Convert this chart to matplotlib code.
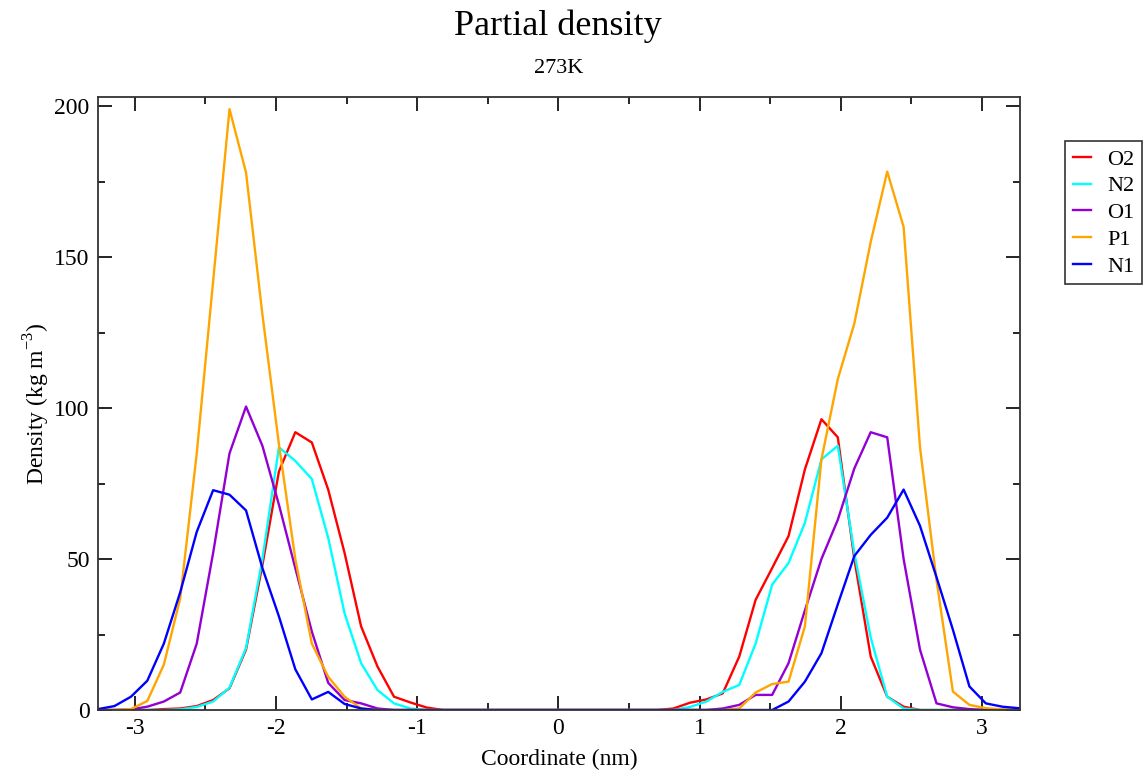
import numpy as np
import matplotlib.pyplot as plt
from matplotlib.ticker import MultipleLocator

plt.rcParams["font.family"] = ["Liberation Serif", "DejaVu Serif"]
plt.rcParams["mathtext.fontset"] = "custom"
plt.rcParams["mathtext.rm"] = "Liberation Serif"
plt.rcParams["axes.unicode_minus"] = False

# bin centres along the box normal (nm)
coord = [-3.260, -3.144, -3.027, -2.911, -2.794, -2.678, -2.561, -2.445, -2.329, -2.212,
         -2.096, -1.979, -1.863, -1.746, -1.630, -1.514, -1.397, -1.281, -1.164, -1.048,
         -0.931, -0.815, -0.699, -0.582, -0.466, -0.349, -0.233, -0.116, 0.000, 0.116,
         0.233, 0.349, 0.466, 0.582, 0.699, 0.815, 0.931, 1.048, 1.164, 1.281,
         1.397, 1.514, 1.630, 1.746, 1.863, 1.979, 2.096, 2.212, 2.329, 2.445,
         2.561, 2.678, 2.794, 2.911, 3.027, 3.144, 3.260]

O2 = [0, 0, 0, 0, 0.3, 0.5, 1.3, 3.3, 7.2, 20, 48, 79, 92, 88.6, 73, 52, 27.7, 14.4, 4.4, 2.5,
      0.8, 0, 0, 0, 0, 0, 0, 0, 0, 0, 0, 0, 0, 0, 0,
      0.5, 2.4, 3.5, 5.5, 17.7, 36.5, 47, 57.6, 79.7, 96.3, 90.3, 50, 17.7, 4.4, 1.1,
      0, 0, 0, 0, 0, 0, 0]
N2 = [0, 0, 0, 0, 0, 0.2, 1, 2.8, 7.4, 20.5, 50, 87, 82.5, 76.5, 57, 32, 15.5, 6.6, 2.2, 0.5,
      0, 0, 0, 0, 0, 0, 0, 0, 0, 0, 0, 0, 0, 0, 0, 0,
      1, 2.8, 6, 8.3, 22, 41.5, 48.7, 62, 83, 87.5, 52, 24, 4.4, 0.5,
      0, 0, 0, 0, 0, 0, 0]
O1 = [0, 0, 0.2, 1.1, 2.8, 5.8, 22, 52, 85, 100.5, 87.5, 68, 47, 26, 9, 3.3, 2.2, 0.5,
      0, 0, 0, 0, 0, 0, 0, 0, 0, 0, 0, 0, 0, 0, 0, 0, 0, 0, 0, 0,
      0.5, 1.7, 5, 5, 15.5, 33, 50, 63, 80, 92, 90.3, 50, 20, 2.2, 0.9, 0.3,
      0, 0, 0]
P1 = [0, 0, 0.3, 3, 15, 37, 85, 142, 199, 178, 131, 88, 50, 22, 11, 4.4, 0.5,
      0, 0, 0, 0, 0, 0, 0, 0, 0, 0, 0, 0, 0, 0, 0, 0, 0, 0, 0, 0, 0, 0,
      0.5, 5.8, 8.6, 9.4, 27.7, 83, 109.6, 128, 155, 178.3, 160, 87, 43, 6.1, 1.7, 0.6, 0.2, 0]
N1 = [0.3, 1.3, 4.4, 9.7, 22, 39, 59, 72.8, 71.3, 66.1, 47, 31, 13.5, 3.5, 6, 2, 0.5,
      0, 0, 0, 0, 0, 0, 0, 0, 0, 0, 0, 0, 0, 0, 0, 0, 0, 0, 0, 0, 0, 0, 0, 0, 0,
      2.8, 9.4, 18.8, 35, 51, 58, 63.7, 73, 61, 44, 26.6, 7.8, 2.2, 1.1, 0.6]

series = [("O2", O2, "#ff0000"), ("N2", N2, "#00ffff"), ("O1", O1, "#9400d3"),
          ("P1", P1, "#ffa500"), ("N1", N1, "#0000ff")]

fig = plt.figure(figsize=(11.44, 7.72), dpi=100)
ax = fig.add_axes([0.0857, 0.0803, 0.806, 0.794])

for name, vals, col in series:
    ax.plot(coord, vals, color=col, lw=1.7, label=name)

ax.set_xlim(-3.26, 3.27)
ax.set_ylim(0, 203)
ax.xaxis.set_major_locator(MultipleLocator(1))
ax.xaxis.set_minor_locator(MultipleLocator(0.5))
ax.yaxis.set_major_locator(MultipleLocator(50))
ax.yaxis.set_minor_locator(MultipleLocator(25))
ax.tick_params(which="both", direction="in", top=True, right=True, labelsize=17, width=1.2)
ax.tick_params(which="major", length=10, pad=6)
ax.tick_params(which="minor", length=5)
for s in ax.spines.values():
    s.set_linewidth(1.3)
    s.set_color("#333333")

ax.set_xlabel("Coordinate (nm)", fontsize=17, labelpad=7)
ax.set_ylabel(r"Density (kg m$^{\mathregular{-3}}$)", fontsize=17, labelpad=2)

fig.text(0.488, 0.966, "Partial density", ha="center", va="center", fontsize=26)
fig.text(0.488, 0.911, "273K", ha="center", va="center", fontsize=16)

leg = ax.legend(loc="upper left", bbox_to_anchor=(0.931, 0.817), bbox_transform=fig.transFigure,
                borderaxespad=0, fontsize=16, handlelength=0.8, handletextpad=0.75,
                labelspacing=0.28, borderpad=0.35, fancybox=False, framealpha=1)
leg.get_frame().set_edgecolor("#333333")
leg.get_frame().set_linewidth(1.2)

fig.savefig("out.png", dpi=100)
